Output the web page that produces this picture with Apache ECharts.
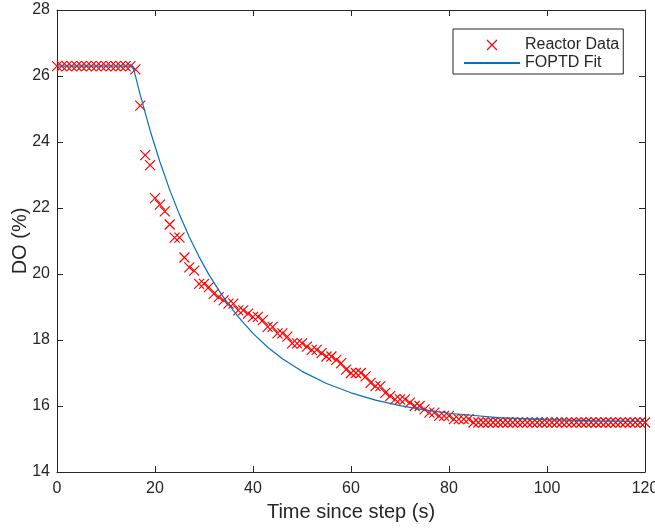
<!DOCTYPE html>
<html>
<head>
<meta charset="utf-8">
<script src="https://cdn.jsdelivr.net/npm/echarts@6/dist/echarts.min.js"></script>
<style>
html,body{margin:0;padding:0;background:#fff;}
#chart{width:655px;height:529px;}
</style>
</head>
<body>
<div id="chart"></div>
<script>
// ---- data ----
var timeData = [0,1,2,3,4,5,6,7,8,9,10,11,12,13,14,15,16,17,18,19,20,21,22,23,24,25,26,27,28,29,30,31,32,33,34,35,36,37,38,39,40,41,42,43,44,45,46,47,48,49,50,51,52,53,54,55,56,57,58,59,60,61,62,63,64,65,66,67,68,69,70,71,72,73,74,75,76,77,78,79,80,81,82,83,84,85,86,87,88,89,90,91,92,93,94,95,96,97,98,99,100,101,102,103,104,105,106,107,108,109,110,111,112,113,114,115,116,117,118,119,120];
var doData = [26.3,26.3,26.3,26.3,26.3,26.3,26.3,26.3,26.3,26.3,26.3,26.3,26.3,26.3,26.3,26.3,26.2,
  25.1,23.6,23.3,22.3,22.1,21.9,21.5,21.1,21.1,20.5,20.2,20.1,19.7,19.7,19.6,19.4,19.3,19.2,19.1,19.1,18.9,18.9,18.8,18.7,18.7,18.6,18.4,18.4,18.2,18.2,18.1,17.9,17.9,17.9,17.8,17.7,17.7,17.6,17.5,17.5,17.4,17.3,17.1,17.0,17.0,17.0,16.9,16.7,16.6,16.6,16.4,16.3,16.2,16.2,16.2,16.1,16.0,16.0,15.9,15.8,15.8,15.7,15.7,15.7,15.6,15.6,15.6,15.6,
  15.5,15.5,15.5,15.5,15.5,15.5,15.5,15.5,15.5,15.5,15.5,15.5,15.5,15.5,15.5,15.5,15.5,15.5,15.5,15.5,15.5,15.5,15.5,15.5,15.5,15.5,15.5,15.5,15.5,15.5,15.5,15.5,15.5,15.5,15.5,15.5];
var fitTime = [0,15.5,17,19,21,23,25,27,29,31,33,35,37,40,43,46,50,55,60,65,70,75,80,90,100,110,120];
var fitValue = [26.3,26.3,25.42,24.35,23.40,22.55,21.80,21.12,20.52,19.98,19.51,19.08,18.70,18.20,17.78,17.43,17.05,16.68,16.40,16.18,16.01,15.88,15.78,15.65,15.59,15.55,15.53];
var xTicks = [0,20,40,60,80,100,120];
var yTicks = [14,16,18,20,22,24,26,28];
var seriesNames = ['Reactor Data','FOPTD Fit'];
var xLabel = 'Time since step (s)';
var yLabel = 'DO (%)';

// ---- build ----
var scatterPts = timeData.map(function(t,i){return [t, doData[i]];});
var fitPts = fitTime.map(function(t,i){return [t, fitValue[i]];});
var crossPath = 'path://M0,0L10,10M10,0L0,10';
var axisColor = '#262626';
var font = 'Liberation Sans, Arial, Helvetica, sans-serif';

var chart = echarts.init(document.getElementById('chart'), null, {renderer:'canvas'});
var baseAxis = {
  type:'value',
  axisLine:{show:true, onZero:false, lineStyle:{color:axisColor, width:1}},
  axisTick:{show:true, inside:true, length:6, lineStyle:{color:axisColor, width:1}},
  splitLine:{show:false},
  nameMoveOverlap:false,
  nameTextStyle:{color:axisColor, fontFamily:font, fontSize:20}
};
chart.setOption({
  animation:false,
  backgroundColor:'#ffffff',
  grid:{left:57, right:10, top:10, bottom:57, containLabel:false, outerBoundsMode:'none'},
  xAxis:[
    Object.assign({}, baseAxis, {
      position:'bottom', min:xTicks[0], max:xTicks[xTicks.length-1], interval:20,
      name:xLabel, nameLocation:'middle', nameGap:30,
      axisLabel:{show:true, color:axisColor, fontFamily:font, fontSize:16, margin:9}
    }),
    Object.assign({}, baseAxis, {
      position:'top', min:xTicks[0], max:xTicks[xTicks.length-1], interval:20,
      axisLabel:{show:false}
    })
  ],
  yAxis:[
    Object.assign({}, baseAxis, {
      position:'left', min:yTicks[0], max:yTicks[yTicks.length-1], interval:2,
      name:yLabel, nameLocation:'middle', nameGap:27,
      axisLabel:{show:true, color:axisColor, fontFamily:font, fontSize:16, margin:7}
    }),
    Object.assign({}, baseAxis, {
      position:'right', min:yTicks[0], max:yTicks[yTicks.length-1], interval:2,
      axisLabel:{show:false}
    })
  ],
  legend:{
    orient:'vertical', left:453, top:29,
    padding:[8,4,3,10],
    borderColor:axisColor, borderWidth:1, backgroundColor:'#fff',
    itemWidth:56, itemHeight:10, itemGap:2,
    textStyle:{color:axisColor, fontFamily:font, fontSize:16},
    data:[
      {name:seriesNames[0], itemStyle:{color:'none', borderColor:'#ff0000', borderWidth:1.2}},
      {name:seriesNames[1], itemStyle:{opacity:0}}
    ]
  },
  series:[
    {
      name:seriesNames[0], type:'scatter', data:scatterPts,
      symbol:crossPath, symbolSize:10, symbolKeepAspect:true, clip:false,
      itemStyle:{color:'none', borderColor:'#ff0000', borderWidth:1.2, opacity:1},
      z:3
    },
    {
      name:seriesNames[1], type:'line', data:fitPts,
      symbol:'none', showSymbol:false,
      lineStyle:{color:'#0072bd', width:1.2},
      itemStyle:{color:'#0072bd'},
      z:4
    }
  ]
});
</script>
</body>
</html>
